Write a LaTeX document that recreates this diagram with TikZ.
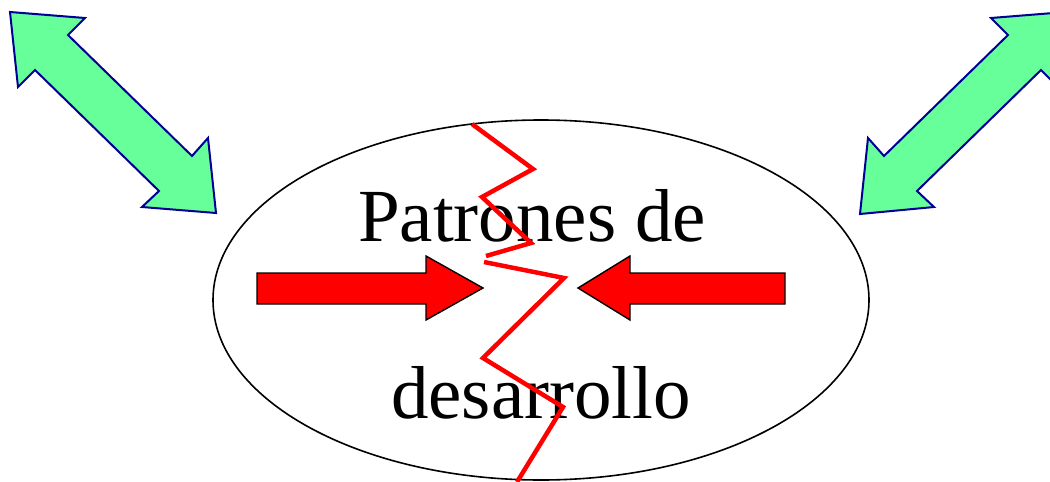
\documentclass[tikz,border=0pt]{standalone}
\usepackage{fontspec}
\setmainfont{Liberation Serif}
\usetikzlibrary{shapes.geometric}

\definecolor{arrowgreen}{RGB}{102,255,153}
\definecolor{arrownavy}{RGB}{0,0,150}

\begin{document}
\begin{tikzpicture}[x=1pt, y=-1pt,
    bubble/.style={ellipse, draw=black, line width=1.6pt, minimum width=656pt, minimum height=360pt, inner sep=0pt},
    label/.style={font=\fontsize{75}{80}\selectfont, anchor=base, inner sep=0pt},
    bigarrow/.style={fill=arrowgreen, draw=arrownavy, line width=2pt, line join=miter},
    pusharrow/.style={fill=red, draw=black, line width=1.4pt, line join=miter},
    crack/.style={draw=red, line width=4.5pt, line join=miter}
]
    \useasboundingbox (0,0) rectangle (1050,482);
    \clip (0,0) rectangle (1050,482);

    % Ellipse central
    \node[bubble] (oval) at (541,300) {};
    \node[label] (top) at (532,241) {Patrones de};
    \node[label] (bottom) at (541,418) {desarrollo};

    % Flechas verdes
    \draw[bigarrow] (10,12) -- (85,18) -- (68,35) -- (192,156) -- (208,138) -- (216,213)
        -- (142,207) -- (159,191) -- (35,70) -- (18,87) -- cycle;
    \draw[bigarrow] (1066,12) -- (991,18) -- (1008,35) -- (884,156) -- (868,138) -- (860,214)
        -- (934,207) -- (917,191) -- (1041,70) -- (1058,87) -- cycle;

    % Flechas rojas
    \draw[pusharrow] (257,273) -- (426,273) -- (426,256) -- (483,288) -- (426,320)
        -- (426,304) -- (257,304) -- cycle;
    \draw[pusharrow] (785,273) -- (630,273) -- (630,256) -- (578,288) -- (630,320)
        -- (630,304) -- (785,304) -- cycle;

    % Grieta
    \draw[crack] (472,124) -- (533,169) -- (482,197) -- (531,243) -- (486,256);
    \draw[crack] (484,262) -- (564,278) -- (483,358) -- (563,407) -- (517,482);

\end{tikzpicture}
\end{document}
